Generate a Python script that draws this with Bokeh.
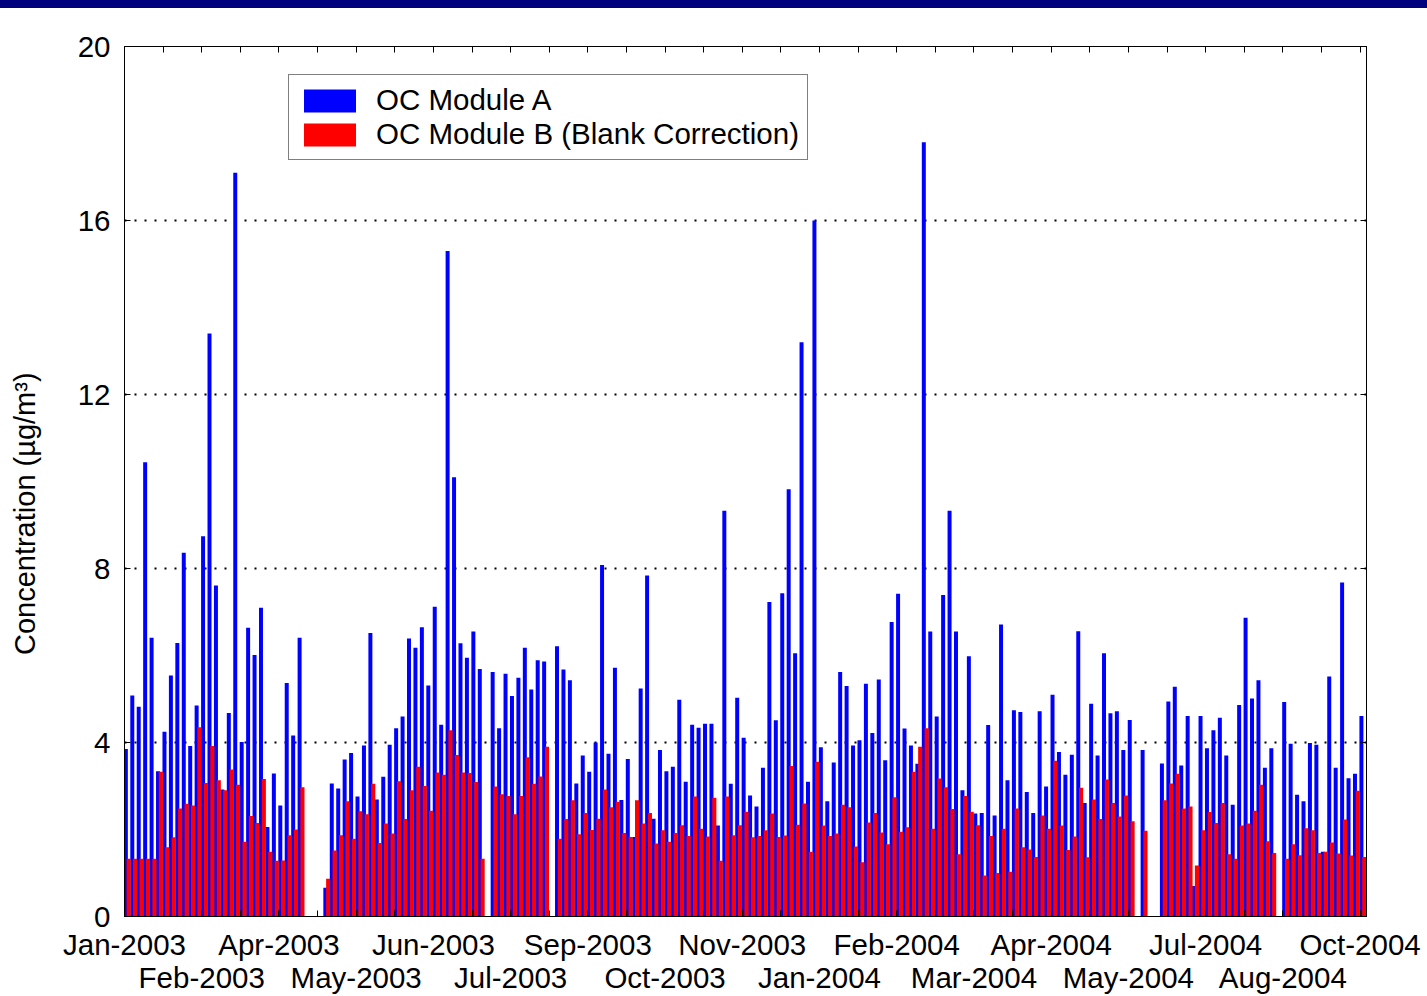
import numpy as np
from bokeh.plotting import figure
from bokeh.models import (Range1d, LinearAxis, FixedTicker, Legend, LegendItem,
                          Div, ColumnDataSource)
from bokeh.layouts import column
from bokeh.embed import file_html
from bokeh.resources import INLINE

N = None

# tick labels (every 12 samples, alternating rows)
labels_row1 = ["Jan-2003", "Apr-2003", "Jun-2003", "Sep-2003", "Nov-2003",
               "Feb-2004", "Apr-2004", "Jul-2004", "Oct-2004"]
labels_row2 = ["Feb-2003", "May-2003", "Jul-2003", "Oct-2003", "Jan-2004",
               "Mar-2004", "May-2004", "Aug-2004"]

# OC Module A (µg/m³), one value per sample, None = missing
module_a = [
    3.85, 5.08, 4.82, 10.44, 6.41, 3.34, 4.25, 5.54, 6.29, 8.36,
    3.92, 4.85, 8.74, 13.4, 7.61, 2.92, 4.68, 17.1, 4.01, 6.64,
    6.01, 7.10, 2.06, 3.29, 2.55, 5.37, 4.16, 6.41, N, N,
    N, 0.66, 3.06, 2.94, 3.61, 3.76, 2.76, 3.93, 6.52, 2.69,
    3.21, 3.95, 4.33, 4.60, 6.39, 6.18, 6.65, 5.31, 7.12, 4.41,
    15.3, 10.1, 6.28, 5.95, 6.55, 5.69, N, 5.62, 4.33, 5.58,
    5.07, 5.49, 6.18, 5.22, 5.89, 5.86, N, 6.21, 5.68, 5.43,
    3.06, 3.70, 3.33, 4.00, 8.08, 3.74, 5.72, 2.68, 3.62, 1.83,
    5.24, 7.84, 2.25, 3.83, 3.34, 3.44, 4.98, 3.10, 4.41, 4.34,
    4.43, 4.43, 2.09, 9.33, 3.05, 5.03, 4.11, 2.78, 2.53, 3.42,
    7.23, 4.51, 7.43, 9.82, 6.05, 13.2, 3.10, 16.0, 3.89, 2.65,
    3.54, 5.62, 5.30, 3.93, 4.05, 5.35, 4.22, 5.45, 3.59, 6.77,
    7.42, 4.32, 3.93, 3.51, 17.8, 6.55, 4.60, 7.39, 9.33, 6.55,
    2.90, 5.98, 2.37, 2.38, 4.40, 2.32, 6.71, 3.13, 4.74, 4.70,
    2.86, 2.38, 4.72, 2.99, 5.10, 3.78, 3.26, 3.72, 6.56, 2.61,
    4.89, 3.70, 6.05, 4.67, 4.72, 3.83, 4.52, N, 3.83, N,
    N, 3.52, 4.94, 5.28, 3.47, 4.61, 0.70, 4.61, 3.87, 4.28,
    4.57, 3.70, 2.57, 4.86, 6.87, 5.01, 5.43, 3.42, 3.87, N,
    4.93, 3.97, 2.80, 2.65, 3.99, 3.95, 1.49, 5.52, 3.42, 7.68,
    3.18, 3.28, 4.61,
]

# OC Module B (Blank Correction)
module_b = [
    1.33, 1.33, 1.33, 1.33, 1.33, 3.33, 1.59, 1.82, 2.48, 2.59,
    2.55, 4.35, 3.07, 3.92, 3.13, 2.90, 3.38, 3.03, 1.72, 2.31,
    2.15, 3.16, 1.49, 1.28, 1.29, 1.87, 2.00, 2.97, N, N,
    N, 0.87, 1.52, 1.87, 2.65, 1.79, 2.42, 2.35, 3.05, 1.69,
    2.14, 1.91, 3.11, 2.24, 2.90, 3.44, 3.00, 2.43, 3.31, 3.26,
    4.28, 3.71, 3.31, 3.30, 3.09, 1.33, N, 2.99, 2.81, 2.77,
    2.35, 2.77, 3.66, 3.05, 3.22, 3.90, N, 1.79, 2.24, 2.67,
    1.89, 2.38, 1.99, 2.25, 2.92, 2.51, 2.64, 1.92, 1.83, 2.67,
    2.14, 2.38, 1.68, 1.98, 1.72, 1.92, 2.10, 1.85, 2.76, 2.02,
    1.84, 2.73, 1.28, 2.76, 1.87, 2.10, 2.41, 1.82, 1.85, 1.98,
    2.37, 1.83, 1.86, 3.46, 2.11, 2.60, 1.49, 3.56, 2.09, 1.85,
    1.91, 2.57, 2.51, 1.61, 1.25, 2.16, 2.38, 1.93, 1.66, 2.74,
    1.95, 2.05, 3.33, 3.90, 4.33, 2.02, 3.17, 2.97, 2.47, 1.43,
    2.77, 2.41, 2.10, 0.94, 1.85, 1.00, 2.02, 1.03, 2.48, 1.59,
    1.54, 1.37, 2.32, 2.02, 3.58, 2.09, 1.53, 1.84, 2.96, 1.36,
    2.69, 2.24, 3.15, 2.61, 2.30, 2.78, 2.19, N, 1.97, N,
    N, 2.67, 3.06, 3.28, 2.48, 2.53, 1.17, 1.98, 2.40, 2.15,
    2.61, 1.43, 1.33, 2.09, 2.14, 2.43, 3.03, 1.73, 1.46, N,
    1.33, 1.66, 1.41, 2.03, 1.98, 1.46, 1.49, 1.70, 1.45, 2.23,
    1.40, 2.89, 1.37,
]

FONT = "Liberation Sans"
FS = "29.5px"

n = len(module_a)
idx = np.arange(n)
a = np.array([np.nan if v is None else v for v in module_a], dtype=float)
b = np.array([np.nan if v is None else v for v in module_b], dtype=float)
src = ColumnDataSource(dict(xa=idx + 0.21, xb=idx + 0.65, a=a, b=b))

p = figure(width=1426, height=996, output_backend="svg", toolbar_location=None,
           x_range=Range1d(0, 193), y_range=Range1d(0, 20),
           min_border_left=124, min_border_right=60, min_border_top=46,
           min_border_bottom=80)
p.background_fill_color = "white"
p.border_fill_color = "white"
p.outline_line_color = "black"
p.outline_line_width = 1

rb = p.vbar(x="xa", top="a", bottom=0, width=0.62, source=src,
            fill_color="#0000FF", line_color=None)
rr = p.vbar(x="xb", top="b", bottom=0, width=0.64, source=src,
            fill_color="#FF0000", line_color=None)

xt = list(range(0, 193, 6))
ov1 = {t: "" for t in xt}
for k, lab in enumerate(labels_row1):
    ov1[24 * k] = lab

xax = p.xaxis[0]
xax.ticker = FixedTicker(ticks=xt)
xax.major_label_overrides = ov1
xax.major_tick_in = 6
xax.major_tick_out = 0
xax.minor_tick_line_color = None
xax.major_label_standoff = 11
xax.major_label_text_font = FONT
xax.major_label_text_font_size = FS
xax.major_label_text_color = "black"
xax.axis_line_color = "black"

t2 = [12 + 24 * k for k in range(len(labels_row2))]
ax2 = LinearAxis(ticker=FixedTicker(ticks=t2),
                 major_label_overrides={t: l for t, l in zip(t2, labels_row2)},
                 major_tick_in=0, major_tick_out=0, minor_tick_line_color=None,
                 axis_line_color=None, major_label_standoff=-3,
                 major_label_text_font=FONT, major_label_text_font_size=FS,
                 major_label_text_color="black")
p.add_layout(ax2, "below")

yax = p.yaxis[0]
yax.ticker = FixedTicker(ticks=[0, 4, 8, 12, 16, 20])
yax.major_tick_in = 6
yax.major_tick_out = 0
yax.minor_tick_line_color = None
yax.major_label_standoff = 14
yax.major_label_text_font = FONT
yax.major_label_text_font_size = FS
yax.major_label_text_color = "black"
yax.axis_line_color = "black"
# trailing no-break spaces push the visible title lower, as in the reference
yax.axis_label = "Concentration (µg/m³)" + "\u00a0" * 8
yax.axis_label_text_font = FONT
yax.axis_label_text_font_size = "29px"
yax.axis_label_text_font_style = "normal"
yax.axis_label_text_color = "black"
yax.axis_label_standoff = 34

top_ax = LinearAxis(ticker=FixedTicker(ticks=xt),
                    major_label_overrides={t: "" for t in xt},
                    major_label_text_font_size="1px", major_tick_in=6,
                    major_tick_out=0, minor_tick_line_color=None,
                    axis_line_color="black")
p.add_layout(top_ax, "above")
right_ax = LinearAxis(ticker=FixedTicker(ticks=[0, 4, 8, 12, 16, 20]),
                      major_label_overrides={t: "" for t in [0, 4, 8, 12, 16, 20]},
                      major_label_text_font_size="1px", major_tick_in=6,
                      major_tick_out=0, minor_tick_line_color=None,
                      axis_line_color="black")
p.add_layout(right_ax, "right")

p.xgrid.visible = False
p.ygrid.ticker = FixedTicker(ticks=[4, 8, 12, 16])
p.ygrid.grid_line_color = "black"
p.ygrid.grid_line_dash = "2 8"
p.ygrid.grid_line_width = 2

legend = Legend(items=[LegendItem(label="OC Module A", renderers=[rb]),
                       LegendItem(label="OC Module B (Blank Correction)", renderers=[rr])],
                location=(164, 756))
legend.label_text_font = FONT
legend.label_text_font_size = FS
legend.label_text_color = "black"
legend.glyph_width = 65
legend.glyph_height = 29
legend.label_height = 23
legend.label_standoff = 14
legend.spacing = 0
legend.padding = 8
legend.margin = 0
legend.border_line_color = "black"
legend.border_line_width = 1
legend.background_fill_color = "white"
legend.background_fill_alpha = 1
p.add_layout(legend)

band = Div(text="", width=1427, height=8, margin=0,
           styles={"position": "fixed", "top": "0px", "left": "0px",
                   "width": "1427px", "height": "8px",
                   "background-color": "#00007F", "z-index": "10"})

layout = column(band, p)
open("out.html", "w").write(file_html(layout, INLINE))
